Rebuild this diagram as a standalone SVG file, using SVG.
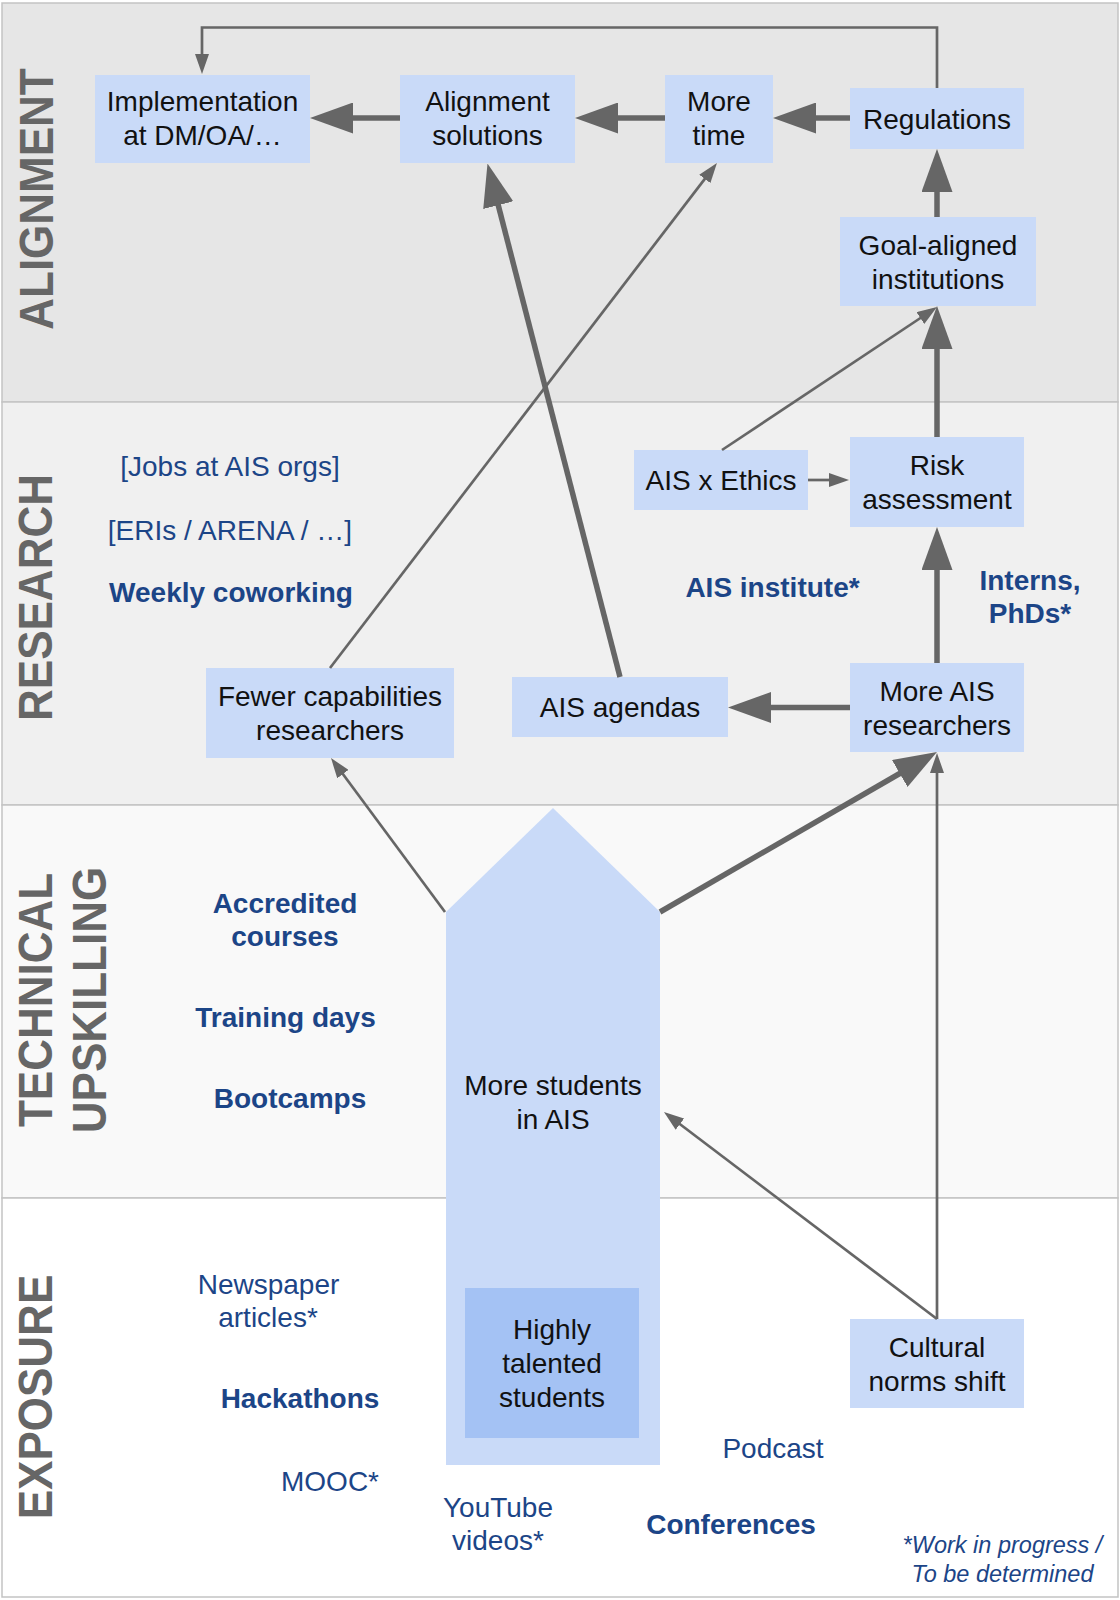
<svg xmlns="http://www.w3.org/2000/svg" width="1120" height="1600" viewBox="0 0 1120 1600">
<style>
.band{stroke:#c3c3c3;stroke-width:1.5}
.box{fill:#c9daf8}
.nt{font-family:"Liberation Sans",Arial,sans-serif;font-size:28px;fill:#111;text-anchor:middle}
.bl{font-family:"Liberation Sans",Arial,sans-serif;font-size:28px;fill:#1c4587;text-anchor:middle}
.bb{font-weight:bold}
.sec{font-family:"Liberation Sans",Arial,sans-serif;font-size:44px;font-weight:bold;fill:#666666;text-anchor:middle}
.thick{stroke:#666666;stroke-width:5.5;fill:none;marker-end:url(#hb)}
.thin{stroke:#666666;stroke-width:2.7;fill:none;marker-end:url(#hs)}
</style>
<defs>
<marker id="hb" markerUnits="userSpaceOnUse" viewBox="0 0 43 31" refX="1" refY="15.5" markerWidth="43" markerHeight="31" orient="auto">
<path d="M0,0 L43,15.5 L0,31 z" fill="#666666"/>
</marker>
<marker id="hs" markerUnits="userSpaceOnUse" viewBox="0 0 20 14" refX="1" refY="7" markerWidth="20" markerHeight="14" orient="auto">
<path d="M0,0 L20,7 L0,14 z" fill="#666666"/>
</marker>
</defs>

<g id="bands">
<rect class="band" x="2" y="3" width="1116" height="399" fill="#e6e6e6"/>
<rect class="band" x="2" y="402" width="1116" height="403" fill="#f0f0f0"/>
<rect class="band" x="2" y="805" width="1116" height="393" fill="#f9f9f9"/>
<rect class="band" x="2" y="1198" width="1116" height="399" fill="#ffffff"/>
</g>

<g id="section-labels">
<text class="sec" transform="translate(35.5,199) rotate(-90) scale(1,1.08)" x="0" y="15.8">ALIGNMENT</text>
<text class="sec" transform="translate(34.5,597.5) rotate(-90) scale(1,1.08)" x="0" y="15.8">RESEARCH</text>
<text class="sec" transform="translate(35.3,1000) rotate(-90) scale(1,1.08)" x="0" y="15.8">TECHNICAL</text>
<text class="sec" transform="translate(89,1000) rotate(-90) scale(1,1.08)" x="0" y="15.8">UPSKILLING</text>
<text class="sec" transform="translate(35,1397) rotate(-90) scale(1,1.08)" x="0" y="15.8">EXPOSURE</text>
</g>

<g id="more-students">
<path class="box" d="M446,912 L553,808 L660,912 L660,1465 L446,1465 Z"/>
<text class="nt" x="553" y="1095">More students</text>
<text class="nt" x="553" y="1129">in AIS</text>
</g>

<g id="highly-talented">
<rect x="465" y="1288" width="174" height="150" fill="#a4c2f4"/>
<text class="nt" x="552" y="1339">Highly</text>
<text class="nt" x="552" y="1373">talented</text>
<text class="nt" x="552" y="1407">students</text>
</g>

<g id="implementation">
<rect class="box" x="95" y="75" width="215" height="88"/>
<text class="nt" x="202.5" y="111">Implementation</text>
<text class="nt" x="202.5" y="145">at DM/OA/…</text>
</g>

<g id="alignment-solutions">
<rect class="box" x="400" y="75" width="175" height="88"/>
<text class="nt" x="487.5" y="111">Alignment</text>
<text class="nt" x="487.5" y="145">solutions</text>
</g>

<g id="more-time">
<rect class="box" x="665" y="75" width="108" height="88"/>
<text class="nt" x="719" y="111">More</text>
<text class="nt" x="719" y="145">time</text>
</g>

<g id="regulations">
<rect class="box" x="850" y="88" width="174" height="61"/>
<text class="nt" x="937" y="129">Regulations</text>
</g>

<g id="goal-aligned">
<rect class="box" x="840" y="217" width="196" height="89"/>
<text class="nt" x="938" y="254.5">Goal-aligned</text>
<text class="nt" x="938" y="288.5">institutions</text>
</g>

<g id="risk-assessment">
<rect class="box" x="850" y="437" width="174" height="90"/>
<text class="nt" x="937" y="475">Risk</text>
<text class="nt" x="937" y="509">assessment</text>
</g>

<g id="ais-ethics">
<rect class="box" x="634" y="450" width="174" height="60"/>
<text class="nt" x="721" y="490">AIS x Ethics</text>
</g>

<g id="more-ais-researchers">
<rect class="box" x="850" y="663" width="174" height="89"/>
<text class="nt" x="937" y="700.5">More AIS</text>
<text class="nt" x="937" y="734.5">researchers</text>
</g>

<g id="ais-agendas">
<rect class="box" x="512" y="677" width="216" height="60"/>
<text class="nt" x="620" y="717">AIS agendas</text>
</g>

<g id="fewer-capabilities">
<rect class="box" x="206" y="668" width="248" height="90"/>
<text class="nt" x="330" y="706">Fewer capabilities</text>
<text class="nt" x="330" y="740">researchers</text>
</g>

<g id="cultural-norms">
<rect class="box" x="850" y="1319" width="174" height="89"/>
<text class="nt" x="937" y="1356.5">Cultural</text>
<text class="nt" x="937" y="1390.5">norms shift</text>
</g>

<g id="connectors">
<path class="thin" d="M937,88 V27.5 H202 V55"/>
<path class="thick" d="M850,118 H815"/>
<path class="thick" d="M665,118 H617"/>
<path class="thick" d="M400,118 H352"/>
<path class="thick" d="M937,217 V191"/>
<path class="thick" d="M937,437 V348"/>
<path class="thick" d="M937,663 V569"/>
<path class="thick" d="M850,707.5 H770"/>
<path class="thick" d="M620,677 L498,204.2"/>
<path class="thick" d="M660,912 L900.6,773"/>
<path class="thin" d="M722,450 L921.2,317.5"/>
<path class="thin" d="M808,480 H830"/>
<path class="thin" d="M330,668 L705.4,178.1"/>
<path class="thin" d="M445,912 L342.3,773.3"/>
<path class="thin" d="M937,1319 V772"/>
<path class="thin" d="M937,1319 L679.1,1123.5"/>
</g>

<g id="labels">
<text class="bl" x="230" y="476">[Jobs at AIS orgs]</text>
<text class="bl" x="230" y="540">[ERIs / ARENA / …]</text>
<text class="bl bb" x="231" y="602">Weekly coworking</text>
<text class="bl bb" x="772.5" y="597">AIS institute*</text>
<text class="bl bb" x="1030" y="590">Interns,</text>
<text class="bl bb" x="1030" y="623">PhDs*</text>
<text class="bl bb" x="285" y="913">Accredited</text>
<text class="bl bb" x="285" y="946">courses</text>
<text class="bl bb" x="285.5" y="1027">Training days</text>
<text class="bl bb" x="290" y="1108">Bootcamps</text>
<text class="bl" x="268.5" y="1294">Newspaper</text>
<text class="bl" x="268" y="1327">articles*</text>
<text class="bl bb" x="300" y="1408">Hackathons</text>
<text class="bl" x="330" y="1491">MOOC*</text>
<text class="bl" x="498" y="1517">YouTube</text>
<text class="bl" x="498" y="1550">videos*</text>
<text class="bl" x="773" y="1458">Podcast</text>
<text class="bl bb" x="731" y="1534">Conferences</text>
<text class="bl" x="1002.5" y="1553" style="font-size:23.5px;font-style:italic">*Work in progress /</text>
<text class="bl" x="1002.5" y="1582" style="font-size:23.5px;font-style:italic">To be determined</text>
</g>
</svg>
